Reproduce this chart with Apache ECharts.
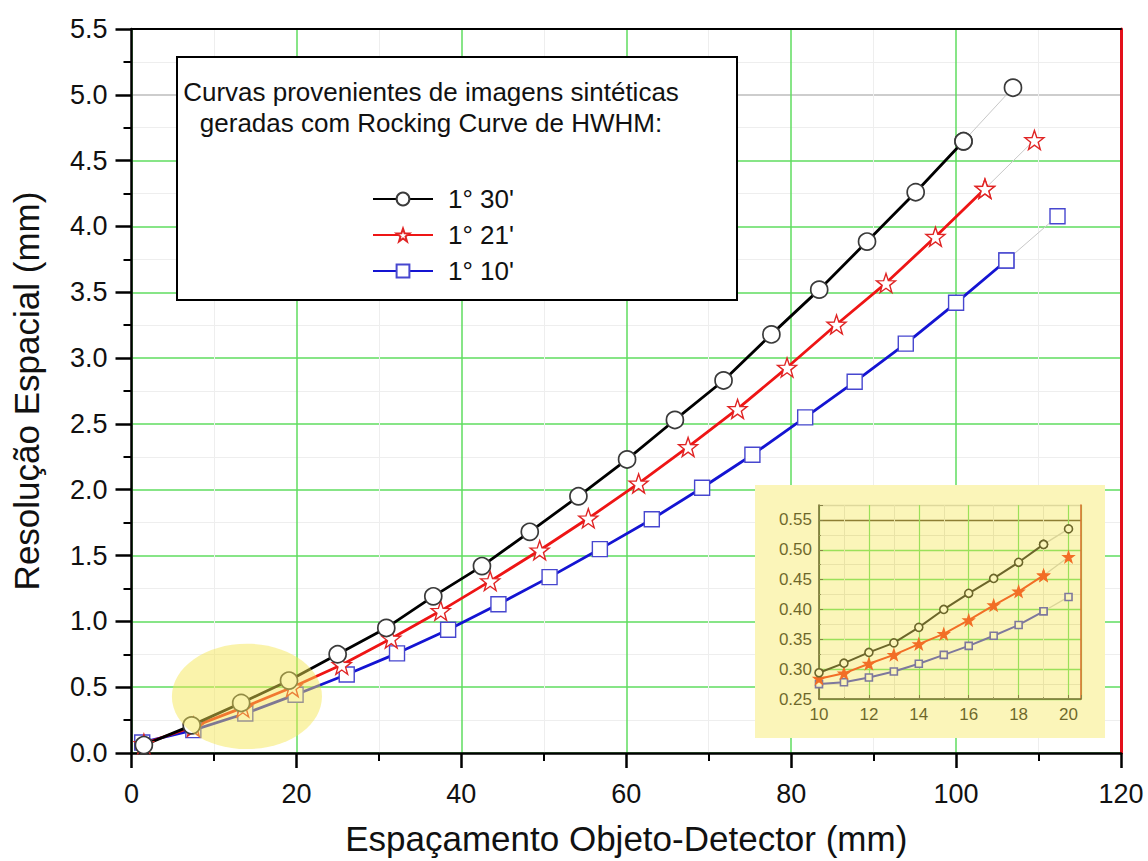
<!DOCTYPE html>
<html><head><meta charset="utf-8">
<script src="https://cdn.jsdelivr.net/npm/echarts@6/dist/echarts.min.js"></script>
<style>html,body{margin:0;padding:0;background:#fff}#c{width:1148px;height:861px}</style>
</head><body><div id="c"></div>
<script>
const FONT = '"Liberation Sans", Arial, Helvetica, sans-serif';

const seriesNames = ["1° 30'", "1° 21'", "1° 10'"];
const legendTitle = ['Curvas provenientes de imagens sintéticas', 'geradas com Rocking Curve de HWHM:'];
const xTitle = 'Espaçamento Objeto-Detector (mm)';
const yTitle = 'Resolução Espacial (mm)';

// Main chart: 1° 30' (circles)
const xCircle = [1.5, 7.3, 13.3, 19.1, 25.0, 30.9, 36.6, 42.5, 48.3, 54.2, 60.1, 65.9, 71.8, 77.6, 83.4, 89.2, 95.1, 100.9, 106.9];
const yCircle = [0.06, 0.21, 0.38, 0.55, 0.75, 0.95, 1.19, 1.42, 1.68, 1.95, 2.23, 2.53, 2.83, 3.18, 3.52, 3.885, 4.26, 4.647, 5.054];
// 1° 21' (stars)
const xStar = [1.5, 7.5, 13.5, 19.5, 25.5, 31.5, 37.5, 43.5, 49.5, 55.4, 61.5, 67.5, 73.5, 79.5, 85.5, 91.5, 97.5, 103.5, 109.5];
const yStar = [0.07, 0.20, 0.345, 0.50, 0.67, 0.87, 1.08, 1.306, 1.54, 1.783, 2.048, 2.325, 2.614, 2.928, 3.255, 3.57, 3.922, 4.287, 4.657];
// 1° 10' (squares)
const xSquare = [1.3, 7.5, 13.8, 19.9, 26.1, 32.2, 38.4, 44.5, 50.7, 56.8, 63.1, 69.2, 75.3, 81.7, 87.7, 93.9, 100.0, 106.1, 112.3];
const ySquare = [0.08, 0.174, 0.30, 0.443, 0.596, 0.757, 0.936, 1.13, 1.336, 1.549, 1.776, 2.015, 2.266, 2.55, 2.82, 3.11, 3.42, 3.741, 4.078];

// Inset (zoom of 10–20 mm)
const xInset = [10, 11, 12, 13, 14, 15, 16, 17, 18, 19, 20];
const yInsetCircle = [0.294, 0.310, 0.328, 0.344, 0.370, 0.400, 0.427, 0.452, 0.479, 0.509, 0.535];
const yInsetStar = [0.284, 0.293, 0.309, 0.324, 0.342, 0.359, 0.382, 0.407, 0.430, 0.457, 0.488];
const yInsetSquare = [0.275, 0.278, 0.286, 0.296, 0.309, 0.324, 0.339, 0.356, 0.374, 0.397, 0.421];

// Highlight ellipse (data coords: centre and half-axes)
const ellipseCenter = [14, 0.43];
const ellipseHalf = [9.1, 0.40];

const STAR = 'path://M0,-1L0.235,-0.324L0.951,-0.309L0.380,0.124L0.588,0.809L0,0.4L-0.588,0.809L-0.380,0.124L-0.951,-0.309L-0.235,-0.324Z';

function zip(xs, ys) { return xs.map((x, i) => [x, ys[i]]); }
const GREEN = '#5fdc5f';
const GRAYSEG = '#c8c8c8';

function mainPair(name, xs, ys, color, symbol, size, border, bw) {
  const pts = zip(xs, ys);
  const n = pts.length;
  return [
    {
      type: 'line', name: name + ' tail', xAxisIndex: 0, yAxisIndex: 0, z: 2,
      data: pts.slice(n - 2), symbol: symbol, symbolSize: size, showSymbol: true,
      lineStyle: { color: GRAYSEG, width: 1 },
      itemStyle: { color: '#fff', borderColor: border, borderWidth: bw },
      emphasis: { disabled: true }, silent: true
    },
    {
      type: 'line', name: name, xAxisIndex: 0, yAxisIndex: 0, z: 3,
      data: pts.slice(0, n - 1), symbol: symbol, symbolSize: size, showSymbol: true,
      lineStyle: { color: color, width: 2.8 },
      itemStyle: { color: '#fff', borderColor: border, borderWidth: bw },
      emphasis: { disabled: true }
    }
  ];
}
function insetPair(name, xs, ys, color, symbol, size, fill, border) {
  const pts = zip(xs, ys);
  const n = pts.length;
  return [
    {
      type: 'line', name: name + ' in-tail', xAxisIndex: 2, yAxisIndex: 2, z: 4,
      data: pts.slice(n - 2), symbol: symbol, symbolSize: size,
      lineStyle: { color: '#c8c8c8', width: 1.3 },
      itemStyle: { color: fill, borderColor: border, borderWidth: 1.6 },
      emphasis: { disabled: true }, silent: true
    },
    {
      type: 'line', name: name + ' in', xAxisIndex: 2, yAxisIndex: 2, z: 5,
      data: pts.slice(0, n - 1), symbol: symbol, symbolSize: size,
      lineStyle: { color: color, width: 2 },
      itemStyle: { color: fill, borderColor: border, borderWidth: 1.6 },
      emphasis: { disabled: true }, silent: true
    }
  ];
}

const chart = echarts.init(document.getElementById('c'), null, { renderer: 'svg' });

const option = {
  animation: false,
  backgroundColor: '#fff',
  textStyle: { fontFamily: FONT },
  grid: [
    { left: 131.5, right: 27, top: 29, bottom: 103, containLabel: false },
    { left: 819, top: 505, width: 262, height: 194, containLabel: false, z: 3 }
  ],
  legend: {
    data: seriesNames,
    orient: 'vertical', left: 367, top: 181,
    itemWidth: 60, itemHeight: 16, itemGap: 10,
    textStyle: { fontSize: 26, color: '#111', fontFamily: FONT, lineHeight: 26, padding: [0, 0, 0, 10] },
    selectedMode: false, z: 6
  },
  xAxis: [
    {
      type: 'value', gridIndex: 0, position: 'bottom', min: 0, max: 120, interval: 20,
      name: xTitle, nameLocation: 'middle', nameGap: 68,
      nameTextStyle: { fontSize: 35, color: '#111', fontFamily: FONT },
      axisLine: { show: true, onZero: false, lineStyle: { color: '#000', width: 2.5 } },
      axisTick: { show: true, inside: false, length: 15, lineStyle: { color: '#000', width: 2.5 } },
      minorTick: { show: true, splitNumber: 2, length: 8, lineStyle: { color: '#000', width: 2 } },
      axisLabel: { fontSize: 27, color: '#111', margin: 27, fontFamily: FONT },
      splitLine: { show: true, lineStyle: { color: GREEN, width: 1.5 } },
      minorSplitLine: { show: true, lineStyle: { color: '#eeeeee', width: 1 } }
    },
    {
      type: 'value', gridIndex: 0, position: 'top', min: 0, max: 120, interval: 20,
      axisLine: { show: true, onZero: false, lineStyle: { color: '#000', width: 2 } },
      axisTick: { show: false }, axisLabel: { show: false }, splitLine: { show: false }
    },
    {
      type: 'value', gridIndex: 1, position: 'bottom', min: 10, max: 20.5, interval: 2, z: 3,
      axisLine: { show: true, onZero: false, lineStyle: { color: '#222', width: 1.6 } },
      axisTick: { show: true, inside: true, length: 4, lineStyle: { color: '#444', width: 1 } },
      minorTick: { show: true, splitNumber: 2, length: 2, lineStyle: { color: '#666', width: 1 } },
      axisLabel: { fontSize: 17, color: '#111', margin: 7, fontFamily: FONT,
        formatter: v => (v > 20.2 ? '' : String(v)) },
      splitLine: { show: true, lineStyle: { color: GREEN, width: 1.2 } },
      minorSplitLine: { show: true, lineStyle: { color: '#e2e2e2', width: 1 } }
    }
  ],
  yAxis: [
    {
      type: 'value', gridIndex: 0, position: 'left', min: 0, max: 5.5, interval: 0.5,
      name: yTitle, nameLocation: 'middle', nameGap: 88,
      nameTextStyle: { fontSize: 35, color: '#111', fontFamily: FONT },
      axisLine: { show: true, onZero: false, lineStyle: { color: '#000', width: 2.5 } },
      axisTick: { show: true, inside: false, length: 16, lineStyle: { color: '#000', width: 2.5 } },
      minorTick: { show: true, splitNumber: 2, length: 8, lineStyle: { color: '#000', width: 2 } },
      axisLabel: { fontSize: 27, color: '#111', margin: 24, fontFamily: FONT, formatter: v => v.toFixed(1) },
      splitLine: { show: true, lineStyle: {
        color: [GREEN, GREEN, GREEN, GREEN, GREEN, GREEN, GREEN, GREEN, GREEN, GREEN, '#bdbdbd', '#000'], width: 1.5 } },
      minorSplitLine: { show: true, lineStyle: { color: '#eeeeee', width: 1 } }
    },
    {
      type: 'value', gridIndex: 0, position: 'right', min: 0, max: 5.5, interval: 0.5,
      axisLine: { show: true, onZero: false, lineStyle: { color: '#e3101a', width: 3 } },
      axisTick: { show: false }, axisLabel: { show: false }, splitLine: { show: false }
    },
    {
      type: 'value', gridIndex: 1, position: 'left', min: 0.25, max: 0.575, interval: 0.05, z: 3,
      axisLine: { show: true, onZero: false, lineStyle: { color: '#222', width: 1.6 } },
      axisTick: { show: true, inside: true, length: 4, lineStyle: { color: '#444', width: 1 } },
      minorTick: { show: true, splitNumber: 2, length: 2, lineStyle: { color: '#666', width: 1 } },
      axisLabel: { fontSize: 17, color: '#111', margin: 7, fontFamily: FONT,
        formatter: v => (v > 0.56 ? '' : v.toFixed(2)) },
      splitLine: { show: true, lineStyle: {
        color: [GREEN, GREEN, GREEN, GREEN, GREEN, GREEN, '#4a3a20', '#cfcfcf'], width: 1.3 } },
      minorSplitLine: { show: true, lineStyle: { color: '#e2e2e2', width: 1 } }
    },
    {
      type: 'value', gridIndex: 1, position: 'right', min: 0.25, max: 0.575, interval: 0.05, z: 3,
      axisLine: { show: true, onZero: false, lineStyle: { color: '#c8281e', width: 1.6 } },
      axisTick: { show: false }, axisLabel: { show: false }, splitLine: { show: false }
    }
  ],
  series: [].concat(
    mainPair(seriesNames[2], xSquare, ySquare, '#1414d2', 'rect', 15, '#4747cf', 1.4),
    mainPair(seriesNames[1], xStar, yStar, '#ee1515', STAR, 19, '#e02424', 1.4),
    mainPair(seriesNames[0], xCircle, yCircle, '#000000', 'circle', 17, '#3a3a3a', 1.7),
    insetPair('s', xInset, yInsetSquare, '#2f2fd0', 'rect', 7, '#ffffff', '#3030d0'),
    insetPair('r', xInset, yInsetStar, '#f01e0a', STAR, 10, '#f01e0a', '#f01e0a'),
    insetPair('c', xInset, yInsetCircle, '#111111', 'circle', 8, '#ffffff', '#111111')
  )
};
chart.setOption(option);

const c0 = chart.convertToPixel({ gridIndex: 0 }, ellipseCenter);
const c1 = chart.convertToPixel({ gridIndex: 0 }, [ellipseCenter[0] + ellipseHalf[0], ellipseCenter[1] + ellipseHalf[1]]);

chart.setOption({
  graphic: { elements: [
    { type: 'rect', id: 'legendBox', z: 3, shape: { x: 177, y: 57, width: 560, height: 243 },
      style: { fill: '#fff', stroke: '#000', lineWidth: 2 } },
    { type: 'text', id: 'legendTitle', z: 6, x: 431, y: 76,
      style: { text: legendTitle.join('\n'), font: '26px ' + FONT, fill: '#111', align: 'center', lineHeight: 31 } },
    { type: 'rect', id: 'insetBg', z: 1, shape: { x: 755, y: 485, width: 350, height: 253 },
      style: { fill: '#fff' } },
    { type: 'rect', id: 'insetOverlay', z: 20, silent: true, shape: { x: 755, y: 485, width: 350, height: 253 },
      style: { fill: 'rgba(244,230,80,0.40)' } },
    { type: 'ellipse', id: 'highlight', z: 20, silent: true,
      shape: { cx: c0[0], cy: c0[1], rx: Math.abs(c1[0] - c0[0]), ry: Math.abs(c1[1] - c0[1]) },
      style: { fill: 'rgba(244,230,80,0.48)' } }
  ] }
});
</script></body></html>
